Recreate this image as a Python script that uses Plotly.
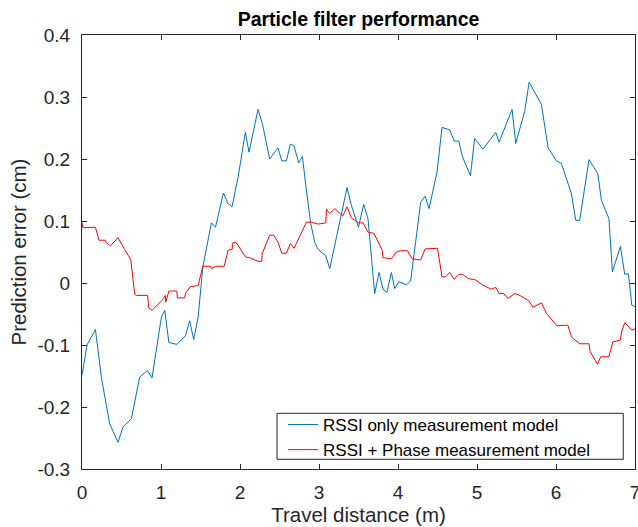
import plotly.graph_objects as go

# Travel distance (m) and prediction error (cm), RSSI-only model
rssi_x = [0.0, 0.063, 0.17, 0.245, 0.35, 0.456, 0.52, 0.625, 0.73, 0.83, 0.886,
          1.005, 1.047, 1.10, 1.20, 1.31, 1.363, 1.414, 1.47, 1.53, 1.638, 1.69,
          1.79, 1.85, 1.90, 1.975, 2.068, 2.114, 2.228, 2.283, 2.376, 2.48, 2.53,
          2.587, 2.638, 2.684, 2.743, 2.79, 2.84, 2.895, 2.946, 2.988, 3.085,
          3.136, 3.355, 3.41, 3.50, 3.566, 3.62, 3.705, 3.76, 3.81, 3.86, 3.916,
          3.958, 4.012, 4.106, 4.16, 4.287, 4.343, 4.393, 4.494, 4.557, 4.655,
          4.71, 4.77, 4.815, 4.917, 4.97, 5.076, 5.237, 5.28, 5.338, 5.444, 5.49,
          5.604, 5.66, 5.815, 5.90, 6.005, 6.068, 6.195, 6.25, 6.30, 6.418, 6.53,
          6.575, 6.67, 6.714, 6.815, 6.87, 6.917, 6.96, 7.0]
rssi_y = [-0.149, -0.100, -0.075, -0.152, -0.227, -0.257, -0.232, -0.219, -0.152,
          -0.141, -0.153, -0.055, -0.044, -0.096, -0.099, -0.085, -0.061, -0.091,
          -0.055, 0.026, 0.097, 0.090, 0.145, 0.128, 0.123, 0.170, 0.243, 0.211,
          0.280, 0.257, 0.200, 0.218, 0.197, 0.197, 0.224, 0.221, 0.194, 0.204,
          0.150, 0.096, 0.066, 0.054, 0.044, 0.023, 0.154, 0.125, 0.090, 0.127,
          0.104, -0.017, 0.017, -0.010, -0.015, 0.017, -0.009, 0.002, -0.003,
          0.003, 0.130, 0.140, 0.120, 0.179, 0.251, 0.247, 0.229, 0.229, 0.204,
          0.173, 0.233, 0.216, 0.243, 0.227, 0.246, 0.280, 0.225, 0.277, 0.324,
          0.288, 0.218, 0.197, 0.193, 0.144, 0.101, 0.101, 0.199, 0.176, 0.133,
          0.104, 0.018, 0.059, 0.014, 0.015, -0.036, -0.038]

# RSSI + phase model
phase_x = [0.0, 0.01, 0.17, 0.215, 0.296, 0.309, 0.36, 0.456, 0.54, 0.617, 0.667,
           0.688, 0.83, 0.845, 0.886, 1.013, 1.055, 1.06, 1.10, 1.20, 1.207, 1.30,
           1.31, 1.37, 1.47, 1.53, 1.625, 1.638, 1.689, 1.80, 1.85, 1.90, 1.91,
           1.953, 2.07, 2.12, 2.228, 2.275, 2.28, 2.376, 2.427, 2.48, 2.53, 2.587,
           2.638, 2.684, 2.84, 2.91, 2.988, 3.085, 3.094, 3.136, 3.20, 3.30, 3.355,
           3.41, 3.50, 3.557, 3.62, 3.696, 3.80, 3.81, 3.916, 3.98, 4.03, 4.12,
           4.18, 4.287, 4.343, 4.50, 4.557, 4.60, 4.655, 4.71, 4.77, 4.815, 4.895,
           4.98, 5.07, 5.18, 5.237, 5.28, 5.338, 5.39, 5.48, 5.54, 5.65, 5.71,
           5.815, 5.88, 6.01, 6.15, 6.195, 6.30, 6.418, 6.43, 6.525, 6.566, 6.67,
           6.72, 6.815, 6.83, 6.87, 6.96, 7.0]
phase_y = [0.098, 0.089, 0.090, 0.069, 0.069, 0.065, 0.060, 0.073, 0.054, 0.038,
           -0.018, -0.020, -0.020, -0.040, -0.044, -0.028, -0.020, -0.031, -0.013,
           -0.013, -0.024, -0.024, -0.017, -0.006, -0.004, 0.027, 0.027, 0.023,
           0.027, 0.027, 0.053, 0.054, 0.065, 0.065, 0.042, 0.041, 0.035, 0.035,
           0.047, 0.077, 0.077, 0.066, 0.048, 0.048, 0.064, 0.056, 0.098, 0.098,
           0.095, 0.097, 0.119, 0.112, 0.120, 0.108, 0.123, 0.105, 0.097, 0.097,
           0.082, 0.080, 0.053, 0.041, 0.039, 0.050, 0.052, 0.052, 0.039, 0.037,
           0.055, 0.056, 0.010, 0.010, 0.017, 0.006, 0.014, 0.014, 0.007, 0.005,
           -0.003, -0.010, -0.007, -0.017, -0.017, -0.025, -0.017, -0.020, -0.028,
           -0.039, -0.032, -0.049, -0.069, -0.068, -0.087, -0.098, -0.098, -0.110,
           -0.131, -0.119, -0.119, -0.095, -0.092, -0.079, -0.064, -0.076, -0.074]

x_ticks = [0, 1, 2, 3, 4, 5, 6, 7]
x_tick_text = ["0", "1", "2", "3", "4", "5", "6", "7"]
y_ticks = [-0.3, -0.2, -0.1, 0.0, 0.1, 0.2, 0.3, 0.4]
y_tick_text = ["-0.3", "-0.2", "-0.1", "0", "0.1", "0.2", "0.3", "0.4"]

axis_color = "#262626"
font_family = "Liberation Sans, Arial, sans-serif"

fig = go.Figure()
fig.add_trace(go.Scatter(x=rssi_x, y=rssi_y, mode="lines",
                         name="RSSI only measurement model",
                         line=dict(color="#0072BD", width=1)))
fig.add_trace(go.Scatter(x=phase_x, y=phase_y, mode="lines",
                         name="RSSI + Phase measurement model",
                         line=dict(color="#FF0000", width=1)))

axis_common = dict(showgrid=False, zeroline=False, showline=True, linecolor=axis_color,
                   linewidth=1, mirror="allticks", ticks="inside", ticklen=5,
                   tickcolor=axis_color, tickwidth=1, ticklabeloverflow="allow",
                   automargin=False,
                   tickfont=dict(family=font_family, size=19, color=axis_color))

# Legend frame: a white box with a thin dark border, wider than the entries
legend_frame = dict(type="rect", xref="paper", yref="paper",
                    x0=0.3526, x1=0.9788, y0=0.0224, y1=0.1283,
                    line=dict(color=axis_color, width=1), fillcolor="white",
                    layer="above")

fig.update_layout(
    width=638, height=527,
    margin=dict(l=82, r=3, t=35, b=58),
    paper_bgcolor="white", plot_bgcolor="white",
    title=dict(text="<b>Particle filter performance</b>", x=0.5, xref="paper",
               xanchor="center", y=0.964, yanchor="middle",
               font=dict(family=font_family, size=19.5, color="black")),
    xaxis=dict(range=[0, 7], tickvals=x_ticks, ticktext=x_tick_text,
               ticklabelstandoff=6,
               title=dict(text="Travel distance (m)", standoff=3,
                          font=dict(family=font_family, size=20.5, color=axis_color)),
               **axis_common),
    yaxis=dict(range=[-0.3, 0.4], tickvals=y_ticks, ticktext=y_tick_text,
               ticklabelstandoff=7,
               title=dict(text="Prediction error (cm)", standoff=5,
                          font=dict(family=font_family, size=20.5, color=axis_color)),
               **axis_common),
    shapes=[legend_frame],
    legend=dict(x=0.3635, xanchor="left", y=0.1429, yanchor="top",
                bgcolor="rgba(0,0,0,0)", borderwidth=0,
                font=dict(family=font_family, size=17, color="black"),
                tracegroupgap=0, itemwidth=30),
    showlegend=True,
)

fig.write_html("out.html")
